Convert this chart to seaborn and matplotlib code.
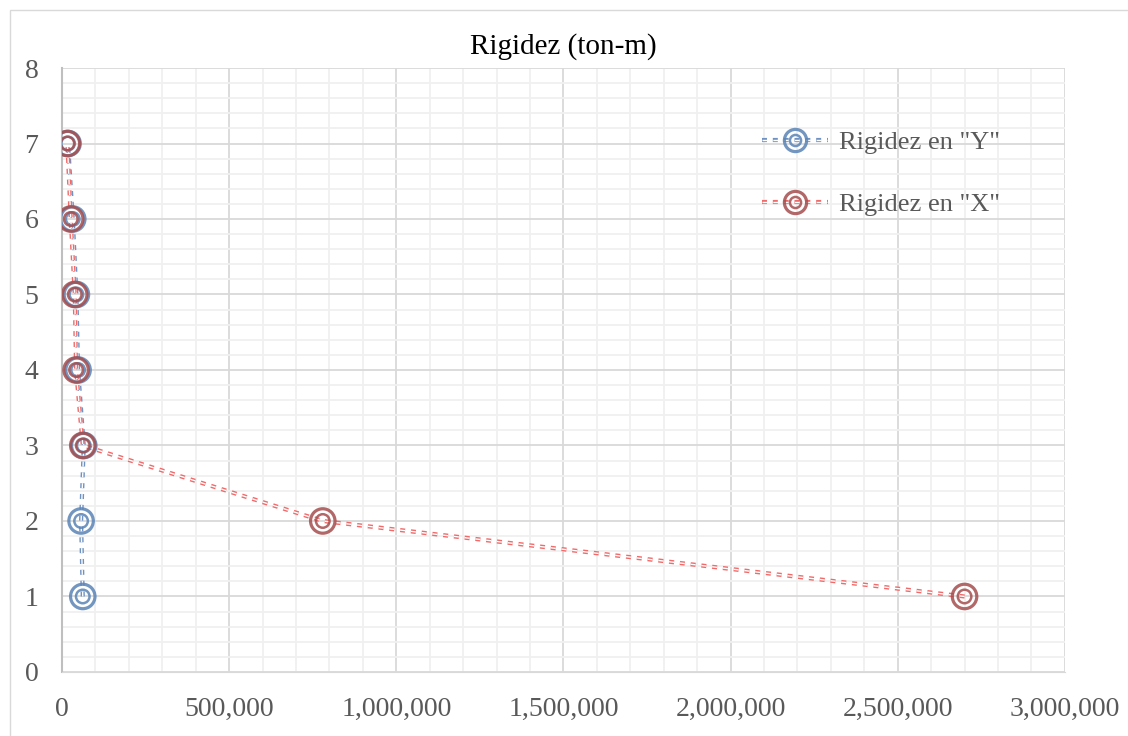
import matplotlib.pyplot as plt
import matplotlib.patheffects as pe
from matplotlib.lines import Line2D
from matplotlib.patches import Rectangle
from matplotlib.legend_handler import HandlerTuple
from matplotlib.ticker import MultipleLocator, FuncFormatter
import numpy as np
import pandas as pd
import seaborn as sns

sns.set_style("white")
plt.rcParams['font.family'] = ['Liberation Serif', 'DejaVu Serif']

niveles = [1, 2, 3, 4, 5, 6, 7]
rigidez_y = [62000, 57000, 65000, 48000, 43000, 32000, 18000]
rigidez_x = [2700000, 780000, 62000, 42000, 38000, 26000, 16000]

df = pd.DataFrame({'Nivel': niveles * 2,
                   'Rigidez': rigidez_y + rigidez_x,
                   'Serie': ['Rigidez en "Y"'] * 7 + ['Rigidez en "X"'] * 7})

line_col = {'Rigidez en "Y"': '#7092c2', 'Rigidez en "X"': '#f06a6a'}
mark_col = {'Rigidez en "Y"': '#5b84b6', 'Rigidez en "X"': '#a54e4e'}
dash = (0, (1.2, 1.4))

fig = plt.figure(figsize=(11.28, 7.36), dpi=100)
ax = fig.add_axes([0.055, 0.087, 0.889, 0.8206])
fig.patches.append(Rectangle((0.009, -0.01), 1.0, 0.997, transform=fig.transFigure,
                             fill=False, edgecolor='#d9d9d9', linewidth=1.0))

for serie in ['Rigidez en "Y"', 'Rigidez en "X"']:
    d = df[df['Serie'] == serie]
    sns.lineplot(ax=ax, data=d, x='Rigidez', y='Nivel', sort=False, estimator=None,
                 color=line_col[serie], linewidth=3.0, linestyle=dash,
                 legend=False, zorder=3,
                 path_effects=[pe.Stroke(linewidth=3.0, foreground=line_col[serie]),
                               pe.Stroke(linewidth=1.0, foreground='white')])
    ax.scatter(d['Rigidez'], d['Nivel'], s=310, facecolors='none',
               edgecolors=mark_col[serie], linewidths=2.3, alpha=0.85, zorder=4)
    ax.scatter(d['Rigidez'], d['Nivel'], s=95, facecolors='none',
               edgecolors=mark_col[serie], linewidths=1.8, alpha=0.85, zorder=4)

ax.set_xlim(0, 3000000)
ax.set_ylim(0, 8)
ax.xaxis.set_major_locator(MultipleLocator(500000))
ax.xaxis.set_minor_locator(MultipleLocator(100000))
ax.yaxis.set_major_locator(MultipleLocator(1))
ax.yaxis.set_minor_locator(MultipleLocator(0.2))
ax.xaxis.set_major_formatter(FuncFormatter(lambda v, p: f"{int(v):,}"))
ax.grid(which='major', color='#d9d9d9', linewidth=1.3, zorder=0)
ax.grid(which='minor', color='#f0f0f0', linewidth=1.3, zorder=0)
ax.set_axisbelow(True)
ax.tick_params(which='both', length=0, labelsize=20, colors='#595959')
ax.tick_params(axis='x', pad=18)
ax.tick_params(axis='y', pad=17)
for s in ['top', 'right']:
    ax.spines[s].set_visible(False)
ax.spines['left'].set_color('#bfbfbf')
ax.spines['bottom'].set_color('#d9d9d9')
ax.spines['left'].set_linewidth(1.5)
ax.set_xlabel('')
ax.set_ylabel('')
ax.set_title('Rigidez (ton-m)', fontsize=21, color='#000000', pad=10)

handles = []
for serie in ['Rigidez en "Y"', 'Rigidez en "X"']:
    h_line = Line2D([0], [0], color=line_col[serie], linewidth=3.0, linestyle=dash,
                    path_effects=[pe.Stroke(linewidth=3.0, foreground=line_col[serie]),
                                  pe.Stroke(linewidth=1.0, foreground='white')])
    h_outer = Line2D([0], [0], linestyle='none', marker='o', markersize=16,
                     markerfacecolor='none', markeredgecolor=mark_col[serie],
                     markeredgewidth=2.3, alpha=0.85)
    h_inner = Line2D([0], [0], linestyle='none', marker='o', markersize=8,
                     markerfacecolor='none', markeredgecolor=mark_col[serie],
                     markeredgewidth=1.8, alpha=0.85)
    handles.append((h_line, h_outer, h_inner))
leg = ax.legend(handles, ['Rigidez en "Y"', 'Rigidez en "X"'], loc='upper left',
                bbox_to_anchor=(0.685, 0.918), frameon=False, fontsize=19,
                borderpad=0, labelspacing=1.45, handlelength=2.5, handletextpad=0.4,
                handler_map={tuple: HandlerTuple(ndivide=1, pad=0)})
for t in leg.get_texts():
    t.set_color('#595959')

fig.savefig('out.png', dpi=100)
